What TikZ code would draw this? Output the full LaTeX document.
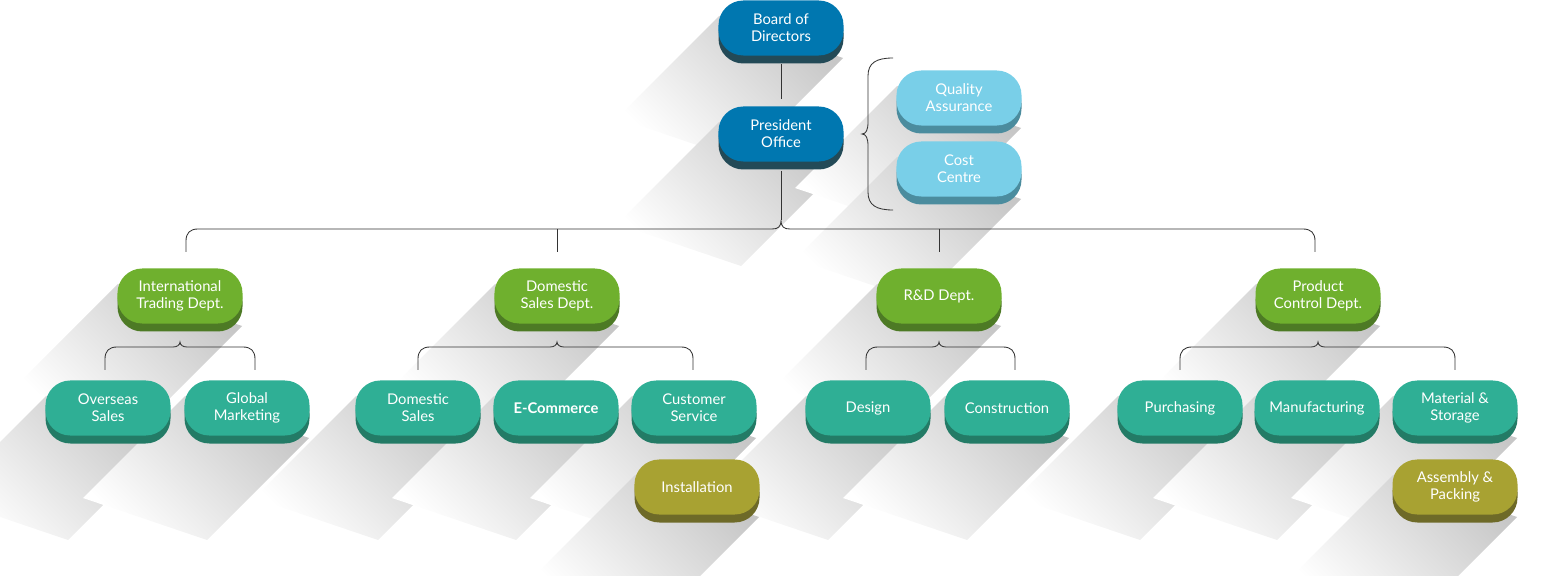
\documentclass[tikz,border=0pt]{standalone}
\usepackage{fontspec}
\setmainfont{Lato}
\usetikzlibrary{backgrounds}
\definecolor{cBlue}{HTML}{0077B0}\definecolor{dBlue}{HTML}{234A57}
\definecolor{cLight}{HTML}{79CFE8}\definecolor{dLight}{HTML}{4B8C9E}
\definecolor{cGreen}{HTML}{6FB02E}\definecolor{dGreen}{HTML}{4D7A25}
\definecolor{cTeal}{HTML}{2FAF95}\definecolor{dTeal}{HTML}{237B66}
\definecolor{cOlive}{HTML}{A8A232}\definecolor{dOlive}{HTML}{6E6A28}
\definecolor{lineC}{HTML}{333333}
\tikzset{
 pill/.style={rectangle, rounded corners=0.62cm, minimum width=3.125cm, minimum height=1.375cm, inner sep=0pt, align=center, text=white, font=\fontsize{10.5}{12}\selectfont},
 shadowfill/.style={shading=axis, top color=black!22, bottom color=white, shading angle=-45, draw=none},
 conn/.style={draw=lineC, line width=0.6pt}
}
\newcommand\pill[6]{% name,x,y,face,dark,text
 \begin{pgfonlayer}{background}
 \path[shadowfill] (#2-62,#3-12) -- (#2+62,#3+30) -- (#2-40,#3+132) -- (#2-164,#3+90) -- cycle;
 \end{pgfonlayer}
 \fill[#5, rounded corners=0.62cm] (#2-62.5,#3-27.5+8) rectangle (#2+62.5,#3+27.5+8);
 \node[pill, fill=#4] (#1) at (#2,#3) {#6};
}
\newcommand\hbr[5]{% x1,x2,xc,ytop,ybot
 \draw[conn] (#1,#5) -- (#1,#4+12) .. controls (#1,#4+4) and (#1+4,#4) .. (#1+12,#4) -- (#3-7,#4)
   .. controls (#3-3,#4) and (#3,#4-2) .. (#3,#4-5)
   .. controls (#3,#4-2) and (#3+3,#4) .. (#3+7,#4) -- (#2-12,#4)
   .. controls (#2-4,#4) and (#2,#4+4) .. (#2,#4+12) -- (#2,#5);
}
\begin{document}
\begin{tikzpicture}[x=0.025cm,y=-0.025cm]
\useasboundingbox (0,0) rectangle (1564,576);
\pill{board}{781}{28}{cBlue}{dBlue}{Board of\\Directors}
\pill{pres}{781}{134}{cBlue}{dBlue}{President\\Office}
\pill{qa}{959}{98}{cLight}{dLight}{Quality\\Assurance}
\pill{cost}{959}{169}{cLight}{dLight}{Cost\\Centre}
\pill{intl}{180}{296}{cGreen}{dGreen}{International\\Trading Dept.}
\pill{dom}{557}{296}{cGreen}{dGreen}{Domestic\\Sales Dept.}
\pill{rd}{939}{296}{cGreen}{dGreen}{R\&D Dept.}
\pill{prod}{1318}{296}{cGreen}{dGreen}{Product\\Control Dept.}
\pill{over}{108}{408}{cTeal}{dTeal}{Overseas\\Sales}
\pill{glob}{247}{408}{cTeal}{dTeal}{Global\\Marketing}
\pill{doms}{418}{408}{cTeal}{dTeal}{Domestic\\Sales}
\pill{ecom}{556}{408}{cTeal}{dTeal}{\textbf{E-Commerce}}
\pill{cust}{694}{408}{cTeal}{dTeal}{Customer\\Service}
\pill{des}{868}{408}{cTeal}{dTeal}{Design}
\pill{cons}{1007}{408}{cTeal}{dTeal}{Construction}
\pill{pur}{1180}{408}{cTeal}{dTeal}{Purchasing}
\pill{man}{1317}{408}{cTeal}{dTeal}{Manufacturing}
\pill{mat}{1455}{408}{cTeal}{dTeal}{Material \&\\Storage}
\pill{inst}{697}{487}{cOlive}{dOlive}{Installation}
\pill{asm}{1455}{487}{cOlive}{dOlive}{Assembly \&\\Packing}
% connectors
\draw[conn] (board.south |- 0,64) -- (pres.north |- 0,99);
\coordinate (cusp) at (781,220);
\draw[conn] (pres.south |- 0,171) -- (cusp);
\draw[conn] (186,252) -- (186,241) .. controls (186,233) and (190,229) .. (198,229) -- (772,229)
  .. controls (778,229) and (781,227) .. (cusp) .. controls (781,227) and (784,229) .. (790,229)
  -- (1303,229) .. controls (1311,229) and (1315,233) .. (1315,241) -- (1315,252);
\draw[conn] (557,229) -- (557,252);
\draw[conn] (939,229) -- (939,252);
\draw[conn] (893,58) .. controls (876,58) and (868,63) .. (868,76) -- (868,122)
  .. controls (868,130) and (866,134) .. (862,134) .. controls (866,134) and (868,138) .. (868,146)
  -- (868,192) .. controls (868,205) and (876,210) .. (893,210);
\hbr{105}{255}{180}{347}{370}
\hbr{418}{693}{557}{347}{370}
\hbr{866}{1015}{939}{347}{370}
\hbr{1180}{1455}{1318}{347}{370}
\end{tikzpicture}
\end{document}
